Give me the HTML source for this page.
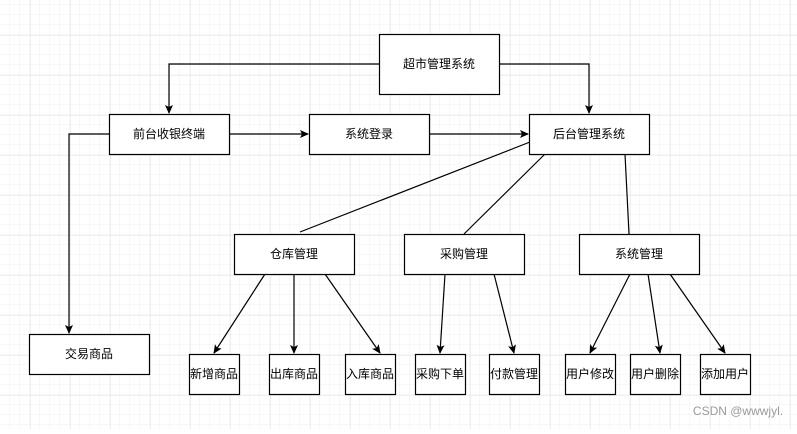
<!DOCTYPE html>
<html><head><meta charset="utf-8"><style>
body{margin:0;background:#fff}
svg text{font-family:"Liberation Sans","Noto Sans CJK SC",sans-serif;font-size:12px;text-anchor:middle;dominant-baseline:central;fill:#000}
</style></head><body>
<svg width="797" height="429" viewBox="0 0 797 429" xmlns="http://www.w3.org/2000/svg">
<defs>
<pattern id="mn" width="10" height="10" patternUnits="userSpaceOnUse" x="0" y="5"><path d="M10 0V10M0 10H10" stroke="#f1f1f1" stroke-width="1" fill="none"/></pattern>
<pattern id="mj" width="40" height="40" patternUnits="userSpaceOnUse" x="30.5" y="35.5"><path d="M0 0V40M0 0H40" stroke="#e0e0e0" stroke-width="1" fill="none"/></pattern>
<marker id="a" markerWidth="10" markerHeight="10" refX="8" refY="5" orient="auto" markerUnits="userSpaceOnUse"><path d="M0 1L9 5L0 9L2 5Z" fill="#000"/></marker>
</defs>
<rect width="797" height="429" fill="url(#mn)"/>
<rect width="797" height="429" fill="url(#mj)"/>
<g stroke="#000" stroke-width="1.2" fill="none">
<path d="M379 64H169V113" marker-end="url(#a)"/>
<path d="M499 64H589V113" marker-end="url(#a)"/>
<path d="M229 134H308" marker-end="url(#a)"/>
<path d="M429 134H528" marker-end="url(#a)"/>
<path d="M109 134H69V333" marker-end="url(#a)"/>
<path d="M530 142L300 232"/>
<path d="M545 154L464 234"/>
<path d="M625 154L629 234"/>
<path d="M265 274L214 353" marker-end="url(#a)"/>
<path d="M294 274V353" marker-end="url(#a)"/>
<path d="M325 274L380 353" marker-end="url(#a)"/>
<path d="M445 274L440 353" marker-end="url(#a)"/>
<path d="M494 274L514 353" marker-end="url(#a)"/>
<path d="M630 274L590 353" marker-end="url(#a)"/>
<path d="M648 274L660 353" marker-end="url(#a)"/>
<path d="M670 274L725 353" marker-end="url(#a)"/>
</g>
<g stroke="#000" stroke-width="1.2" fill="#fff">
<rect x="379.5" y="34.5" width="120" height="60"/>
<rect x="109.5" y="114.5" width="120" height="40"/>
<rect x="309.5" y="114.5" width="120" height="40"/>
<rect x="529.5" y="114.5" width="120" height="40"/>
<rect x="234.5" y="234.5" width="120" height="40"/>
<rect x="404.5" y="234.5" width="120" height="40"/>
<rect x="579.5" y="234.5" width="120" height="40"/>
<rect x="29.5" y="334.5" width="120" height="40"/>
<rect x="189.5" y="354.5" width="50" height="40"/>
<rect x="269.5" y="354.5" width="50" height="40"/>
<rect x="345.5" y="354.5" width="50" height="40"/>
<rect x="415.5" y="354.5" width="50" height="40"/>
<rect x="489.5" y="354.5" width="50" height="40"/>
<rect x="565.5" y="354.5" width="50" height="40"/>
<rect x="630.5" y="354.5" width="50" height="40"/>
<rect x="700.5" y="354.5" width="50" height="40"/>
</g>
<text x="439" y="64">超市管理系统</text>
<text x="169" y="134">前台收银终端</text>
<text x="369" y="134">系统登录</text>
<text x="589" y="134">后台管理系统</text>
<text x="294" y="254">仓库管理</text>
<text x="464" y="254">采购管理</text>
<text x="639" y="254">系统管理</text>
<text x="89" y="354">交易商品</text>
<text x="214" y="374">新增商品</text>
<text x="294" y="374">出库商品</text>
<text x="370" y="374">入库商品</text>
<text x="440" y="374">采购下单</text>
<text x="514" y="374">付款管理</text>
<text x="590" y="374">用户修改</text>
<text x="655" y="374">用户删除</text>
<text x="725" y="374">添加用户</text>
<text x="738" y="411" style="fill:#999;font-size:12px">CSDN @wwwjyl.</text>
</svg>
</body></html>
